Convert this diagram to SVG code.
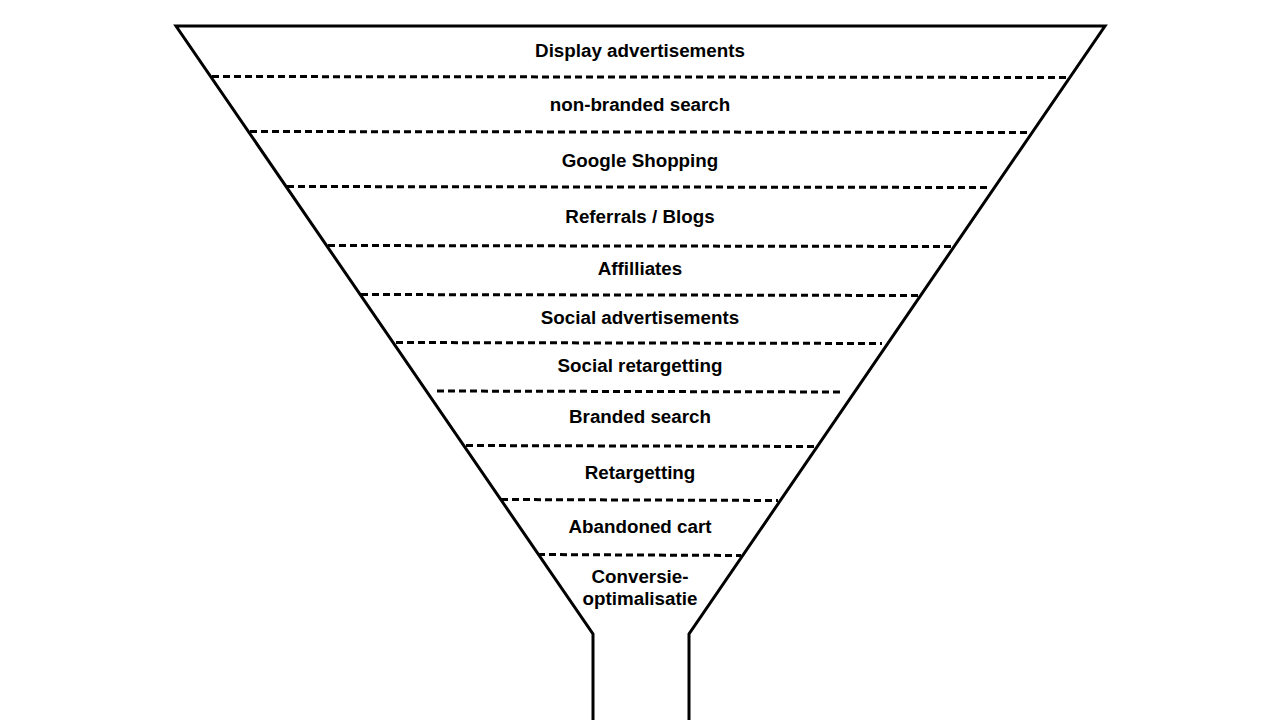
<svg xmlns="http://www.w3.org/2000/svg" width="1280" height="720" viewBox="0 0 1280 720">
<style>
.frame{fill:none;stroke:#000;stroke-width:3;stroke-linejoin:miter}
.div{stroke:#000;stroke-width:3;stroke-dasharray:7 4}
.lbl{font-family:"Liberation Sans",Arial,sans-serif;font-weight:bold;font-size:18.8px;fill:#000;text-anchor:middle}
</style>
<rect width="1280" height="720" fill="#fff"/>
<g id="funnel">
<path class="frame" d="M593,720 L593,634 L176,26 L1105,26 L689,634 L689,720"/>
</g>
<g id="connectors">
<line class="div" x1="212" y1="76.5" x2="1068" y2="77.5"/>
<line class="div" x1="250" y1="131.5" x2="1027" y2="132.5"/>
<line class="div" x1="287" y1="186.5" x2="990" y2="187.5"/>
<line class="div" x1="328" y1="245.5" x2="951" y2="246.5"/>
<line class="div" x1="361" y1="294.5" x2="918" y2="295.5"/>
<line class="div" x1="396" y1="342.5" x2="882" y2="343.5"/>
<line class="div" x1="437" y1="391" x2="840" y2="392"/>
<line class="div" x1="466" y1="445.5" x2="815" y2="446.5"/>
<line class="div" x1="501" y1="499.5" x2="778" y2="500.5"/>
<line class="div" x1="538" y1="554.5" x2="741" y2="555.5"/>
</g>
<g id="n1"><text class="lbl" x="640" y="57">Display advertisements</text></g>
<g id="n2"><text class="lbl" x="640" y="111">non-branded search</text></g>
<g id="n3"><text class="lbl" x="640" y="167">Google Shopping</text></g>
<g id="n4"><text class="lbl" x="640" y="223">Referrals / Blogs</text></g>
<g id="n5"><text class="lbl" x="640" y="275">Affilliates</text></g>
<g id="n6"><text class="lbl" x="640" y="324">Social advertisements</text></g>
<g id="n7"><text class="lbl" x="640" y="372">Social retargetting</text></g>
<g id="n8"><text class="lbl" x="640" y="423">Branded search</text></g>
<g id="n9"><text class="lbl" x="640" y="479">Retargetting</text></g>
<g id="n10"><text class="lbl" x="640" y="533">Abandoned cart</text></g>
<g id="n11"><text class="lbl" x="640" y="583">Conversie-</text><text class="lbl" x="640" y="605">optimalisatie</text></g>
</svg>
